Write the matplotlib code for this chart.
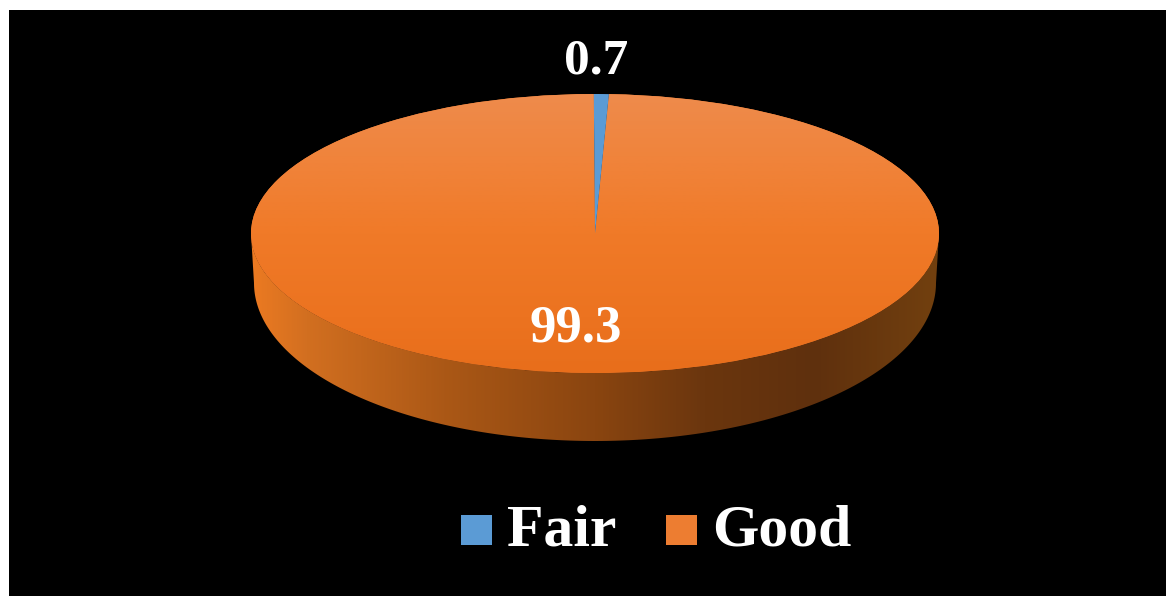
import numpy as np
import matplotlib
matplotlib.use("Agg")
import matplotlib.pyplot as plt
from matplotlib.path import Path
from matplotlib.patches import PathPatch, Rectangle
from matplotlib.colors import LinearSegmentedColormap
from matplotlib.legend_handler import HandlerPatch

categories = ["Fair", "Good"]
values = [0.7, 99.3]
value_labels = ["0.7", "99.3"]
colors = ["#5B9BD5", "#ED7D31"]

W, H = 1166, 596
CX, CY, RX, RY = 595.0, 233.5, 344.0, 139.5
LOW_CY, LOW_RX, LOW_RY = 283.0, 341.0, 158.0


def ux(px):
    return (px - CX) / RX


def uy(py):
    return (CY - py) / RY


plt.rcParams["font.family"] = ["Liberation Serif", "DejaVu Serif"]
fig = plt.figure(figsize=(W / 100, H / 100), dpi=100, facecolor="white")
fig.patches.append(Rectangle((9 / W, 0), 1 - 9 / W, 1 - 10 / H, zorder=-5,
                             transform=fig.transFigure, facecolor="black", edgecolor="none"))
ax = fig.add_axes([0, 0, 1, 1], zorder=1)
ax.patch.set_alpha(0)

wedges, _ = ax.pie(values, colors=colors, startangle=90.2, counterclock=False,
                   radius=1.0, center=(0, 0), wedgeprops=dict(linewidth=0))
ax.set_aspect("auto")
ax.set_axis_off()

# Rim of the disc: the lower outline is a slightly narrower, deeper ellipse
t = np.linspace(np.pi, 2 * np.pi, 240)
top_edge = np.c_[np.cos(t), np.sin(t)]
low_edge = np.c_[LOW_RX / RX * np.cos(t), uy(LOW_CY + LOW_RY * -np.sin(t))]
verts = np.r_[top_edge, low_edge[::-1], top_edge[:1]]
codes = [Path.MOVETO] + [Path.LINETO] * (len(verts) - 2) + [Path.CLOSEPOLY]
rim = PathPatch(Path(verts, codes), facecolor="none", edgecolor="none", transform=ax.transData)
ax.add_patch(rim)
rim_cmap = LinearSegmentedColormap.from_list(
    "rim", [(0, "#EC7A22"), (0.08, "#D26F20"), (0.28, "#AB5816"),
            (0.5, "#8A4510"), (0.66, "#6B360E"), (0.82, "#5F300D"), (1, "#72400F")])
bottom = uy(441)
im = ax.imshow(np.linspace(0, 1, 512)[None, :], extent=(-1, 1, bottom, 0), cmap=rim_cmap,
               aspect="auto", zorder=0.5, interpolation="bilinear")
im.set_clip_path(rim)

# Soft vertical shading of the top face
top_cmap = LinearSegmentedColormap.from_list(
    "top", [(0, "#EE8B4C"), (0.22, "#F0843C"), (0.5, "#F07A28"), (0.8, "#EC7320"), (1, "#E86E1B")])
imt = ax.imshow(np.linspace(0, 1, 256)[:, None], extent=(-1, 1, -1, 1), cmap=top_cmap,
                aspect="auto", zorder=2, interpolation="bilinear")
imt.set_clip_path(wedges[1])
wedges[0].set_zorder(3)
ax.set_xlim(ux(0), ux(W))
ax.set_ylim(uy(H), uy(0))

ax.text(ux(596), uy(61), value_labels[0], color="white", fontsize=37, fontweight="bold",
        ha="center", va="center", zorder=5)
ax.text(ux(576), uy(329), value_labels[1], color="white", fontsize=38, fontweight="bold",
        ha="center", va="center", zorder=5)


def square(legend, orig_handle, xdescent, ydescent, width, height, fontsize):
    return Rectangle((0, 0), width, 21.6)


leg = ax.legend(wedges, categories, loc="center", bbox_to_anchor=(656 / W, 1 - 531 / H),
                bbox_transform=fig.transFigure, ncol=2, frameon=False,
                prop=dict(family="Liberation Serif", weight="bold", size=43),
                handlelength=0.52, handletextpad=0.25, columnspacing=0.84,
                handler_map={type(wedges[0]): HandlerPatch(patch_func=square)},
                labelcolor="white", borderpad=0)

fig.savefig("out.png", dpi=100, facecolor="white")
